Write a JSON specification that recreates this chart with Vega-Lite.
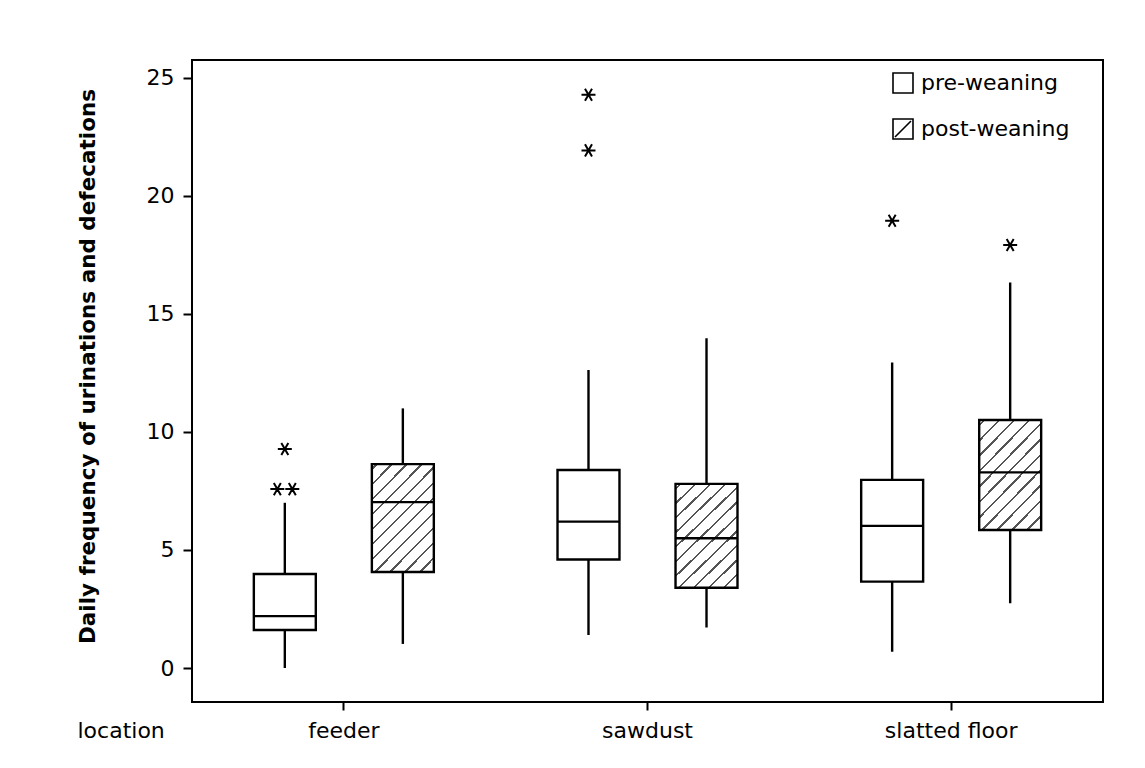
{
  "$schema": "https://vega.github.io/schema/vega-lite/v6.json",
  "width": 911,
  "height": 642,
  "autosize": "none",
  "padding": {"left": 192, "top": 60, "right": 42, "bottom": 66},
  "background": "white",
  "datasets": {
    "boxes": [
      {"location": "feeder", "period": "pre-weaning", "low": 0, "q1": 1.61, "median": 2.2, "q3": 3.98, "high": 7.0},
      {"location": "feeder", "period": "post-weaning", "low": 1.02, "q1": 4.07, "median": 7.03, "q3": 8.64, "high": 11.0},
      {"location": "sawdust", "period": "pre-weaning", "low": 1.4, "q1": 4.6, "median": 6.2, "q3": 8.39, "high": 12.63},
      {"location": "sawdust", "period": "post-weaning", "low": 1.72, "q1": 3.4, "median": 5.5, "q3": 7.8, "high": 13.97},
      {"location": "slatted floor", "period": "pre-weaning", "low": 0.69, "q1": 3.66, "median": 6.02, "q3": 7.97, "high": 12.94},
      {"location": "slatted floor", "period": "post-weaning", "low": 2.74, "q1": 5.85, "median": 8.29, "q3": 10.51, "high": 16.33}
    ],
    "outliers": [
      {"location": "feeder", "period": "pre-weaning", "value": 9.28, "n": 1},
      {"location": "feeder", "period": "pre-weaning", "value": 7.58, "n": 2},
      {"location": "sawdust", "period": "pre-weaning", "value": 24.29, "n": 1},
      {"location": "sawdust", "period": "pre-weaning", "value": 21.93, "n": 1},
      {"location": "slatted floor", "period": "pre-weaning", "value": 18.95, "n": 1},
      {"location": "slatted floor", "period": "post-weaning", "value": 17.92, "n": 1}
    ]
  },
  "config": {
    "view": {"stroke": "black", "strokeWidth": 2},
    "font": "DejaVu Sans",
    "axis": {
      "labelFont": "DejaVu Sans",
      "labelFontSize": 22,
      "labelColor": "black",
      "tickColor": "black",
      "tickWidth": 2,
      "domain": false,
      "grid": false,
      "titleColor": "black",
      "titleFont": "DejaVu Sans"
    }
  },
  "resolve": {"scale": {"shape": "independent"}, "legend": {"shape": "independent"}},
  "layer": [
    {
      "data": {"name": "boxes"},
      "mark": {"type": "rule", "color": "black", "strokeWidth": 2.4},
      "encoding": {
        "x": {
          "field": "location", "type": "nominal",
          "sort": ["feeder", "sawdust", "slatted floor"],
          "scale": {"paddingInner": 0, "paddingOuter": 0},
          "axis": {
            "title": "location", "labelAngle": 0, "tickSize": 8, "labelPadding": 27,
            "labelBaseline": "alphabetic", "titleFontSize": 22, "titleFontWeight": "normal",
            "titleX": -115, "titleY": 35, "titleAlign": "left", "titleBaseline": "alphabetic", "titleAnchor": "start"
          }
        },
        "xOffset": {
          "field": "period", "type": "nominal",
          "sort": ["pre-weaning", "post-weaning"],
          "scale": {"paddingInner": 0.475, "paddingOuter": 0.524}
        },
        "y": {
          "field": "low", "type": "quantitative",
          "title": "Daily frequency of urinations and defecations",
          "scale": {"domain": [-1.44, 25.76], "nice": false, "zero": false},
          "axis": {
            "values": [0, 5, 10, 15, 20, 25], "tickSize": 9, "labelPadding": 9,
            "titleFontSize": 21.5, "titleFontWeight": "bold",
            "titleX": -104, "titleY": 306, "titleAngle": -90,
            "titleAlign": "center", "titleBaseline": "middle"
          }
        },
        "y2": {"field": "high"}
      }
    },
    {
      "data": {"name": "boxes"},
      "mark": {"type": "bar", "stroke": "black", "strokeWidth": 2.4},
      "encoding": {
        "x": {"field": "location", "type": "nominal", "sort": ["feeder", "sawdust", "slatted floor"]},
        "xOffset": {"field": "period", "type": "nominal", "sort": ["pre-weaning", "post-weaning"]},
        "y": {"field": "q1", "type": "quantitative", "title": "Daily frequency of urinations and defecations"},
        "y2": {"field": "q3"},
        "fill": {
          "condition": {
            "test": "datum.period === 'post-weaning'",
            "value": {
              "gradient": "linear", "x1": 0, "y1": 0, "x2": 0.7, "y2": 1.21,
              "stops": [
                {"offset": 0, "color": "white"},
                {"offset": 0.023, "color": "white"}, {"offset": 0.023, "color": "#555"}, {"offset": 0.037, "color": "#555"}, {"offset": 0.037, "color": "white"},
                {"offset": 0.1097, "color": "white"}, {"offset": 0.1097, "color": "#555"}, {"offset": 0.1237, "color": "#555"}, {"offset": 0.1237, "color": "white"},
                {"offset": 0.1964, "color": "white"}, {"offset": 0.1964, "color": "#555"}, {"offset": 0.2104, "color": "#555"}, {"offset": 0.2104, "color": "white"},
                {"offset": 0.2831, "color": "white"}, {"offset": 0.2831, "color": "#555"}, {"offset": 0.2971, "color": "#555"}, {"offset": 0.2971, "color": "white"},
                {"offset": 0.3698, "color": "white"}, {"offset": 0.3698, "color": "#555"}, {"offset": 0.3838, "color": "#555"}, {"offset": 0.3838, "color": "white"},
                {"offset": 0.4565, "color": "white"}, {"offset": 0.4565, "color": "#555"}, {"offset": 0.4705, "color": "#555"}, {"offset": 0.4705, "color": "white"},
                {"offset": 0.5432, "color": "white"}, {"offset": 0.5432, "color": "#555"}, {"offset": 0.5572, "color": "#555"}, {"offset": 0.5572, "color": "white"},
                {"offset": 0.6299, "color": "white"}, {"offset": 0.6299, "color": "#555"}, {"offset": 0.6439, "color": "#555"}, {"offset": 0.6439, "color": "white"},
                {"offset": 0.7166, "color": "white"}, {"offset": 0.7166, "color": "#555"}, {"offset": 0.7306, "color": "#555"}, {"offset": 0.7306, "color": "white"},
                {"offset": 0.8033, "color": "white"}, {"offset": 0.8033, "color": "#555"}, {"offset": 0.8173, "color": "#555"}, {"offset": 0.8173, "color": "white"},
                {"offset": 0.89, "color": "white"}, {"offset": 0.89, "color": "#555"}, {"offset": 0.904, "color": "#555"}, {"offset": 0.904, "color": "white"},
                {"offset": 0.9767, "color": "white"}, {"offset": 0.9767, "color": "#555"}, {"offset": 0.9907, "color": "#555"}, {"offset": 0.9907, "color": "white"},
                {"offset": 1, "color": "white"}
              ]
            }
          },
          "value": "white"
        }
      }
    },
    {
      "data": {"name": "boxes"},
      "mark": {"type": "tick", "color": "black", "thickness": 2.4, "size": 62, "opacity": 1},
      "encoding": {
        "x": {"field": "location", "type": "nominal", "sort": ["feeder", "sawdust", "slatted floor"]},
        "xOffset": {"field": "period", "type": "nominal", "sort": ["pre-weaning", "post-weaning"]},
        "y": {"field": "median", "type": "quantitative", "title": "Daily frequency of urinations and defecations"}
      }
    },
    {
      "data": {"name": "boxes"},
      "mark": {"type": "point", "filled": false, "color": "black", "opacity": 0, "size": 400},
      "encoding": {
        "x": {"field": "location", "type": "nominal", "sort": ["feeder", "sawdust", "slatted floor"]},
        "xOffset": {"field": "period", "type": "nominal", "sort": ["pre-weaning", "post-weaning"]},
        "y": {"field": "median", "type": "quantitative", "title": "Daily frequency of urinations and defecations"},
        "shape": {
          "field": "period", "type": "nominal",
          "sort": ["pre-weaning", "post-weaning"],
          "scale": {
            "domain": ["pre-weaning", "post-weaning"],
            "range": [
              "M-1,-1L1,-1L1,1L-1,1Z",
              "M-1,-1L1,-1L1,1L-1,1ZM-0.8,0.8L0.8,-0.8"
            ]
          },
          "legend": {
            "title": null, "orient": "none", "legendX": 700, "legendY": 12,
            "symbolSize": 400, "symbolOpacity": 1,
            "symbolStrokeColor": "black", "symbolStrokeWidth": 1.6, "symbolFillColor": "white",
            "labelFont": "DejaVu Sans", "labelFontSize": 22, "labelColor": "black",
            "labelOffset": 7, "rowPadding": 18, "padding": 0
          }
        }
      }
    },
    {
      "data": {"name": "outliers"},
      "mark": {"type": "point", "filled": false, "color": "black", "strokeWidth": 2, "size": 196, "opacity": 1},
      "encoding": {
        "x": {"field": "location", "type": "nominal", "sort": ["feeder", "sawdust", "slatted floor"]},
        "xOffset": {"field": "period", "type": "nominal", "sort": ["pre-weaning", "post-weaning"]},
        "y": {"field": "value", "type": "quantitative", "title": "Daily frequency of urinations and defecations"},
        "shape": {
          "field": "n", "type": "nominal",
          "scale": {
            "domain": [1, 2],
            "range": [
              "M-1,0L1,0M-0.5,-0.866L0.5,0.866M-0.5,0.866L0.5,-0.866",
              "M-2.07,0L-0.07,0M-1.57,-0.866L-0.57,0.866M-1.57,0.866L-0.57,-0.866M0.07,0L2.07,0M0.57,-0.866L1.57,0.866M0.57,0.866L1.57,-0.866"
            ]
          },
          "legend": null
        }
      }
    }
  ]
}
